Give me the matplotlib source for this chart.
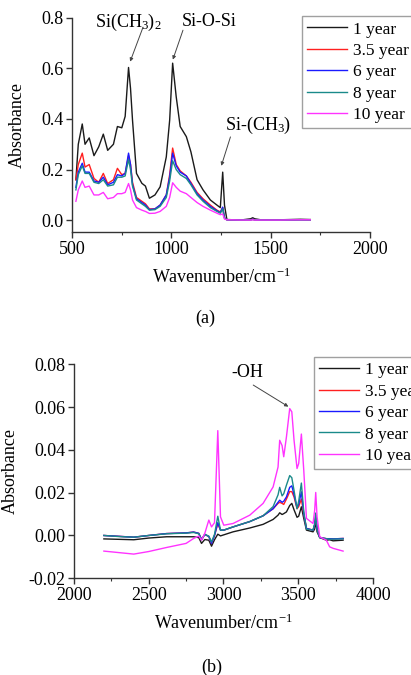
import matplotlib
matplotlib.use("Agg")
import matplotlib.pyplot as plt
from matplotlib.ticker import MultipleLocator

plt.rcParams['font.family'] = ['Liberation Serif', 'DejaVu Serif']
plt.rcParams['mathtext.default'] = 'regular'

# ---------------- Data: panel (a) ----------------
top_wn = [520, 532, 552, 566, 587, 611, 635, 658, 680, 709, 729, 751, 768, 785, 795,
          805, 825, 852, 870, 890, 918, 944, 975, 992, 1007, 1025, 1045, 1076, 1099,
          1130, 1160, 1197, 1230, 1247, 1259, 1268, 1280, 1350, 1400, 1410, 1420,
          1450, 1550, 1650, 1700]
top_1yr = [0.16, 0.30, 0.38, 0.30, 0.325, 0.255, 0.29, 0.34, 0.276, 0.30, 0.37, 0.365,
           0.41, 0.603, 0.52, 0.395, 0.185, 0.146, 0.135, 0.087, 0.10, 0.132, 0.25,
           0.395, 0.62, 0.487, 0.37, 0.33, 0.27, 0.16, 0.12, 0.08, 0.06, 0.05, 0.19,
           0.06, 0.003, 0.001, 0.006, 0.01, 0.006, 0.002, 0.002, 0.004, 0.003]
top_3_5yr = [0.16, 0.22, 0.265, 0.21, 0.22, 0.165, 0.15, 0.185, 0.145, 0.16, 0.205,
             0.18, 0.185, 0.255, 0.22, 0.15, 0.09, 0.075, 0.065, 0.045, 0.045, 0.06,
             0.10, 0.18, 0.285, 0.22, 0.195, 0.175, 0.15, 0.11, 0.085, 0.06, 0.04,
             0.033, 0.05, 0.01, 0.002, 0.001, 0.002, 0.004, 0.002, 0.001, 0.001,
             0.002, 0.002]
top_6yr = [0.13, 0.19, 0.225, 0.19, 0.19, 0.155, 0.15, 0.17, 0.14, 0.15, 0.18, 0.175,
           0.185, 0.265, 0.22, 0.14, 0.085, 0.07, 0.06, 0.042, 0.045, 0.06, 0.10,
           0.17, 0.265, 0.215, 0.19, 0.175, 0.145, 0.105, 0.08, 0.055, 0.038, 0.03,
           0.052, 0.01, 0.002, 0.001, 0.002, 0.004, 0.002, 0.001, 0.001, 0.002, 0.002]
top_8yr = [0.12, 0.18, 0.215, 0.185, 0.185, 0.15, 0.145, 0.16, 0.135, 0.14, 0.17,
           0.17, 0.175, 0.24, 0.20, 0.135, 0.08, 0.065, 0.055, 0.04, 0.042, 0.055,
           0.09, 0.155, 0.235, 0.20, 0.18, 0.165, 0.14, 0.10, 0.075, 0.05, 0.035,
           0.028, 0.045, 0.008, 0.002, 0.001, 0.002, 0.003, 0.002, 0.001, 0.001,
           0.002, 0.002]
top_10yr = [0.075, 0.12, 0.155, 0.13, 0.135, 0.10, 0.10, 0.11, 0.085, 0.09, 0.105,
            0.105, 0.11, 0.145, 0.12, 0.08, 0.05, 0.04, 0.035, 0.027, 0.028, 0.035,
            0.055, 0.09, 0.148, 0.13, 0.115, 0.105, 0.09, 0.07, 0.055, 0.04, 0.028,
            0.022, 0.025, 0.005, 0.002, 0.001, 0.001, 0.002, 0.001, 0.001, 0.001,
            0.002, 0.002]

# ---------------- Data: panel (b) ----------------
bot_wn = [2200, 2300, 2400, 2500, 2620, 2750, 2800, 2835, 2853, 2875, 2902, 2920,
          2940, 2962, 2980, 3002, 3064, 3176, 3265, 3332, 3365, 3376, 3392, 3403,
          3421, 3443, 3457, 3472, 3492, 3503, 3521, 3537, 3555, 3599, 3610, 3617,
          3626, 3644, 3688, 3710, 3733, 3800]
bot_1yr = [-0.0016, -0.0018, -0.0020, -0.0012, -0.0006, -0.0006, -0.0006, -0.0010,
           -0.0037, -0.0019, -0.0022, -0.0050, -0.0020, 0.0006, -0.0002, 0.0003,
           0.0017, 0.0035, 0.0052, 0.0075, 0.0095, 0.0106, 0.0098, 0.0102, 0.0110,
           0.0140, 0.0150, 0.0120, 0.0085, 0.0090, 0.0134, 0.0080, 0.0025, 0.0017,
           0.0030, 0.0069, 0.0017, -0.0010, -0.0022, -0.0020, -0.0025, -0.0022]
bot_3_5yr = [0.0, -0.0004, -0.0008, 0.0, 0.0009, 0.0012, 0.0016, 0.0010, -0.0019,
             0.0005, -0.0005, -0.0037, 0.0, 0.0055, 0.0025, 0.0025, 0.0040, 0.0065,
             0.0092, 0.0125, 0.0150, 0.0155, 0.0150, 0.0145, 0.0170, 0.0205, 0.0205,
             0.0180, 0.0125, 0.0135, 0.0170, 0.0100, 0.0033, 0.0025, 0.0050, 0.0085,
             0.0030, -0.0010, -0.0015, -0.0015, -0.0016, -0.0014]
bot_6yr = [0.0, -0.0004, -0.0008, 0.0, 0.0009, 0.0012, 0.0016, 0.0010, -0.0019,
           0.0005, -0.0005, -0.0037, 0.0, 0.0060, 0.0025, 0.0025, 0.0040, 0.0065,
           0.0092, 0.0125, 0.0155, 0.0165, 0.0155, 0.0160, 0.0180, 0.0225, 0.0232,
           0.0190, 0.0130, 0.0145, 0.0204, 0.0103, 0.0033, 0.0025, 0.0050, 0.0095,
           0.0030, -0.0010, -0.0015, -0.0015, -0.0016, -0.0014]
bot_8yr = [0.0, -0.0005, -0.0008, 0.0, 0.0008, 0.0011, 0.0014, 0.0008, -0.0020,
           0.0005, -0.0003, -0.0030, 0.0005, 0.0090, 0.0025, 0.0025, 0.0040, 0.0065,
           0.0092, 0.0135, 0.0190, 0.0225, 0.0185, 0.0195, 0.0235, 0.0280, 0.0270,
           0.0210, 0.0125, 0.0160, 0.0245, 0.0110, 0.0030, 0.0025, 0.0055, 0.0105,
           0.0030, -0.0010, -0.0015, -0.0017, -0.0017, -0.0016]
bot_10yr = [-0.0073, -0.0080, -0.0087, -0.0075, -0.0056, -0.0037, -0.0014, -0.0003,
            -0.0022, 0.0010, 0.0072, 0.0040, 0.0060, 0.0490, 0.0087, 0.0048, 0.0056,
            0.0095, 0.0150, 0.0227, 0.0320, 0.0445, 0.0420, 0.0368, 0.0460, 0.0593,
            0.0578, 0.0445, 0.0313, 0.0336, 0.0474, 0.0305, 0.0080, 0.0056, 0.0118,
            0.0201, 0.0087, -0.0006, -0.0022, -0.0053, -0.0060, -0.0073]

labels = ['1 year', '3.5 year', '6 year', '8 year', '10 year']
colors = ['#1a1a1a', '#ff2020', '#1a1aff', '#1a8a8a', '#ff33ff']

FS = 13
LFS = 12.5

fig = plt.figure(figsize=(4.11, 6.75), dpi=100)


def style_axes(ax):
    for s in ['top', 'right']:
        ax.spines[s].set_visible(False)
    for s in ['left', 'bottom']:
        ax.spines[s].set_color('#333333')
        ax.spines[s].set_linewidth(1.0)
    ax.tick_params(axis='both', which='major', direction='out', length=4,
                   width=1, labelsize=FS, color='#333333', pad=2)
    ax.tick_params(axis='both', which='minor', direction='out', length=2.5,
                   width=0.8, color='#333333')


arrow = dict(arrowstyle='-|>', color='#444444', lw=0.7, mutation_scale=5,
             shrinkA=0, shrinkB=0)


def label_arrow(ax, text, txy, tail, tip):
    ax.text(txy[0], txy[1], text, fontsize=FS, ha='center', va='center',
            clip_on=False)
    ax.annotate('', xy=tip, xytext=tail, arrowprops=arrow, annotation_clip=False)


def add_legend(ax, anchor):
    leg = ax.legend(loc='upper left', bbox_to_anchor=anchor,
                    bbox_transform=fig.transFigure, fontsize=LFS,
                    frameon=True, fancybox=False, edgecolor='#888888',
                    handlelength=2.3, handletextpad=0.35, borderpad=0.3,
                    labelspacing=0.3, borderaxespad=0)
    leg.get_frame().set_linewidth(1.0)
    return leg


# ---------- Panel (a) ----------
ax1 = fig.add_axes([0.175, 0.656, 0.725, 0.318])
for ys, c, lab in zip([top_1yr, top_3_5yr, top_6yr, top_8yr, top_10yr], colors, labels):
    ax1.plot(top_wn, ys, color=c, lw=1.0, label=lab)
ax1.set_xlim(500, 2000)
ax1.set_ylim(-0.047, 0.8)
ax1.set_xticks([500, 1000, 1500, 2000])
ax1.xaxis.set_minor_locator(MultipleLocator(250))
ax1.set_yticks([0.0, 0.2, 0.4, 0.6, 0.8])
ax1.set_yticklabels(['0.0', '0.2', '0.4', '0.6', '0.8'])
style_axes(ax1)
ax1.set_xlabel('Wavenumber/cm$^{-1}$', fontsize=FS, labelpad=7)
ax1.set_ylabel('Absorbance', fontsize=FS, labelpad=11)

label_arrow(ax1, 'Si(CH$_3$)$_2$', (783, 0.781), (858, 0.762), (793, 0.626))
label_arrow(ax1, 'Si-O-Si', (1192, 0.785), (1059, 0.750), (1008, 0.634))
label_arrow(ax1, 'Si-(CH$_3$)', (1439, 0.373), (1298, 0.329), (1252, 0.215))

add_legend(ax1, (0.735, 0.976))

fig.text(0.5, 1 - 318 / 675, '(a)', fontsize=FS, ha='center', va='center')

# ---------- Panel (b) ----------
ax2 = fig.add_axes([0.180, 0.1433, 0.7275, 0.317])
for ys, c, lab in zip([bot_1yr, bot_3_5yr, bot_6yr, bot_8yr, bot_10yr], colors, labels):
    ax2.plot(bot_wn, ys, color=c, lw=1.0, label=lab)
ax2.set_xlim(2000, 4000)
ax2.set_ylim(-0.02, 0.08)
ax2.set_xticks([2000, 2500, 3000, 3500, 4000])
ax2.xaxis.set_minor_locator(MultipleLocator(250))
ax2.set_yticks([-0.02, 0.0, 0.02, 0.04, 0.06, 0.08])
ax2.set_yticklabels(['-0.02', '0.00', '0.02', '0.04', '0.06', '0.08'])
style_axes(ax2)
ax2.set_xlabel('Wavenumber/cm$^{-1}$', fontsize=FS, labelpad=7)
ax2.set_ylabel('Absorbance', fontsize=FS, labelpad=7)
label_arrow(ax2, '-OH', (3157, 0.0761), (3199, 0.0703), (3434, 0.0602))

add_legend(ax2, (0.764, 0.471))

fig.text(0.516, 1 - 667 / 675, '(b)', fontsize=FS, ha='center', va='center')

fig.savefig('out.png', dpi=100)
